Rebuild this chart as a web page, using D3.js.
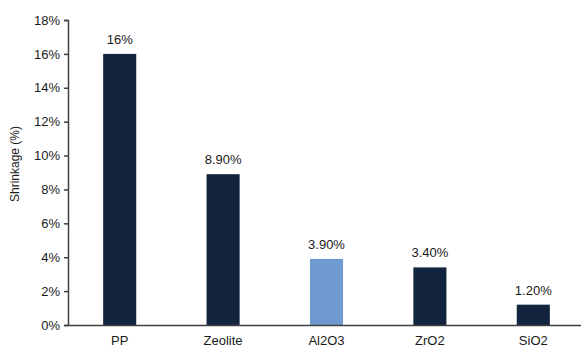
<!DOCTYPE html>
<html>
<head>
<meta charset="utf-8">
<script src="https://cdn.jsdelivr.net/npm/d3@7"></script>
<style>
  html, body { margin: 0; padding: 0; background: #fff; }
  svg { display: block; font-family: "Liberation Sans", Arial, sans-serif; }
</style>
</head>
<body>
<svg id="chart" width="581" height="347"></svg>
<script>
// Shrinkage of membranes by material
const categories = ["PP", "Zeolite", "Al2O3", "ZrO2", "SiO2"];
const shrinkage = [16, 8.9, 3.9, 3.4, 1.2];
const valueLabels = ["16%", "8.90%", "3.90%", "3.40%", "1.20%"];
const yTicks = [0, 2, 4, 6, 8, 10, 12, 14, 16, 18];
const highlighted = "Al2O3";

(function draw() {
  const svg = d3.select("#chart");
  const plotLeft = 68, plotRight = 585, plotTop = 20, plotBottom = 325;

  const x = d3.scaleBand().domain(categories).range([plotLeft, plotRight]).paddingInner(0.68).paddingOuter(0.34);
  const y = d3.scaleLinear().domain([0, 18]).range([plotBottom, plotTop]);

  const axisColor = "#404040";
  const textColor = "#1a1a1a";
  const fontSize = 13;

  // bars
  svg.append("g").selectAll("rect")
    .data(categories)
    .join("rect")
    .attr("x", d => x(d))
    .attr("width", x.bandwidth())
    .attr("y", (d, i) => y(shrinkage[i]))
    .attr("height", (d, i) => y(0) - y(shrinkage[i]))
    .attr("fill", d => d === highlighted ? "#6f9ad0" : "#13243f");

  // value labels
  svg.append("g").selectAll("text")
    .data(categories)
    .join("text")
    .attr("x", d => x(d) + x.bandwidth() / 2)
    .attr("y", (d, i) => y(shrinkage[i]) - 10)
    .attr("text-anchor", "middle")
    .attr("font-size", fontSize)
    .attr("fill", textColor)
    .text((d, i) => valueLabels[i]);

  // y axis
  const yAxis = svg.append("g")
    .attr("transform", `translate(${plotLeft},0)`)
    .call(d3.axisLeft(y).tickValues(yTicks).tickFormat(d => d + "%").tickSize(4).tickSizeOuter(4));
  yAxis.selectAll("path, line").attr("stroke", axisColor).attr("stroke-width", 1.5);
  yAxis.selectAll("text").attr("font-size", fontSize).attr("fill", textColor)
    .attr("font-family", "Liberation Sans, Arial, sans-serif").attr("x", -8);

  // x axis
  const xAxis = svg.append("g")
    .attr("transform", `translate(0,${plotBottom})`)
    .call(d3.axisBottom(x).tickSize(0).tickSizeOuter(0));
  xAxis.select("path").attr("stroke", axisColor).attr("stroke-width", 1.5);
  xAxis.selectAll("text").attr("font-size", fontSize).attr("fill", textColor)
    .attr("font-family", "Liberation Sans, Arial, sans-serif").attr("dy", "1.3em");

  // y axis title
  svg.append("text")
    .attr("transform", "translate(19,164) rotate(-90)")
    .attr("text-anchor", "middle")
    .attr("font-size", 12)
    .attr("fill", textColor)
    .text("Shrinkage (%)");
})();
</script>
</body>
</html>
